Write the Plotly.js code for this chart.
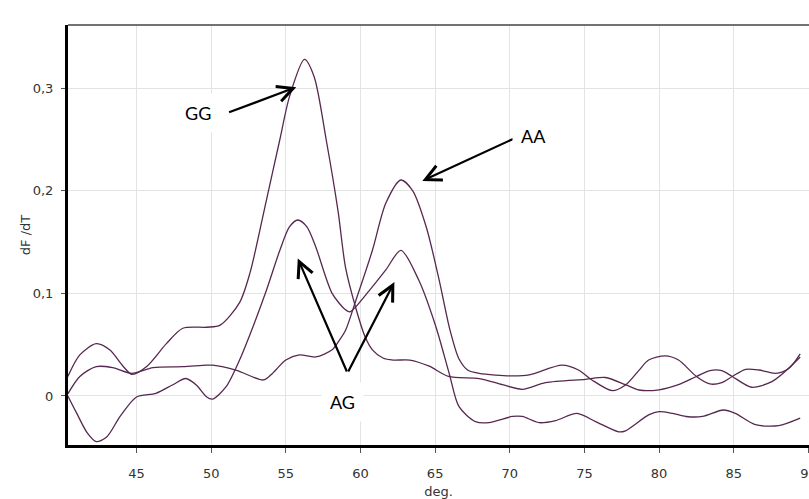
<!DOCTYPE html>
<html>
<head>
<meta charset="utf-8">
<script src="https://cdn.plot.ly/plotly-3.0.1.min.js"></script>
<style>
html,body{margin:0;padding:0;overflow:hidden;background:#fff;}
#chart{width:809px;height:499px;}
</style>
</head>
<body>
<div id="chart"></div>
<script>
// Curve GG
var ggX = [40.4, 41.2, 42.3, 43.2, 44.1, 44.7, 45.7, 47.0, 48.1, 49.7, 50.6, 51.9, 52.6, 53.7, 54.6, 55.25, 56.25, 56.9, 57.7, 58.5, 59.0, 59.7, 60.3, 60.8, 61.5, 62.2, 63.3, 64.6, 65.9, 67.95, 69.5, 70.84, 72.4, 75.08, 76.4, 77.75, 78.65, 80.0, 81.3, 82.5, 83.4, 84.2, 84.9, 86.2, 87.55, 88.45, 89.45];
var ggY = [0.019, 0.040, 0.051, 0.045, 0.029, 0.021, 0.029, 0.051, 0.066, 0.067, 0.069, 0.091, 0.12, 0.191, 0.25, 0.292, 0.328, 0.311, 0.25, 0.18, 0.125, 0.085, 0.058, 0.045, 0.037, 0.035, 0.035, 0.029, 0.019, 0.017, 0.011, 0.0065, 0.013, 0.0162, 0.018, 0.011, 0.0058, 0.006, 0.011, 0.019, 0.0247, 0.0247, 0.019, 0.0085, 0.014, 0.024, 0.038];
// Curve AG
var agX = [40.4, 41.0, 41.7, 42.3, 43.0, 43.9, 45.0, 46.3, 47.4, 48.3, 49.0, 49.7, 50.1, 51.0, 51.9, 52.8, 53.7, 54.6, 55.25, 55.8, 56.4, 57.0, 58.1, 59.0, 59.3, 60.6, 61.7, 62.71, 63.9, 65.05, 65.94, 66.6, 67.7, 68.6, 70.17, 70.84, 71.96, 73.07, 74.5, 75.75, 77.3, 77.75, 79.3, 80.0, 80.9, 81.8, 82.9, 84.3, 85.1, 86.45, 88.0, 89.45];
var agY = [0.0, -0.017, -0.036, -0.0445, -0.040, -0.020, -0.001, 0.0026, 0.0107, 0.017, 0.0107, -0.001, -0.003, 0.009, 0.035, 0.0675, 0.103, 0.142, 0.165, 0.1715, 0.165, 0.1455, 0.1, 0.084, 0.082, 0.103, 0.123, 0.142, 0.113, 0.0675, 0.022, -0.0104, -0.025, -0.026, -0.020, -0.020, -0.026, -0.024, -0.017, -0.025, -0.035, -0.034, -0.0185, -0.0153, -0.017, -0.020, -0.020, -0.0137, -0.017, -0.028, -0.029, -0.0217];
// Curve AA
var aaX = [40.4, 41.2, 42.3, 43.4, 44.67, 46.1, 48.1, 49.7, 50.1, 51.7, 53.5, 54.1, 55.0, 55.9, 57.0, 58.1, 58.6, 59.0, 59.7, 60.8, 61.7, 62.71, 63.5, 64.4, 65.27, 66.0, 66.6, 67.2, 67.95, 70.17, 71.3, 73.5, 74.6, 75.5, 76.86, 77.75, 78.65, 79.3, 80.4, 81.3, 82.5, 83.4, 84.2, 84.9, 85.8, 86.7, 87.8, 88.7, 89.45];
var aaY = [0.002, 0.019, 0.0286, 0.0276, 0.022, 0.0276, 0.0286, 0.030, 0.030, 0.025, 0.0156, 0.022, 0.035, 0.040, 0.038, 0.045, 0.0546, 0.064, 0.0936, 0.142, 0.188, 0.2105, 0.20, 0.165, 0.113, 0.064, 0.036, 0.025, 0.022, 0.0195, 0.0205, 0.030, 0.0253, 0.0156, 0.0052, 0.0107, 0.025, 0.035, 0.039, 0.035, 0.019, 0.0117, 0.013, 0.019, 0.026, 0.0253, 0.022, 0.027, 0.041];

var xTicks = [45, 50, 55, 60, 65, 70, 75, 80, 85, 90];
var yTicks = [0, 0.1, 0.2, 0.3];

var lineColor = '#57284f';
function curve(x, y, name) {
  return {x: x, y: y, name: name, type: 'scatter', mode: 'lines',
    line: {color: lineColor, width: 1.3, shape: 'spline', smoothing: 0.8},
    hoverinfo: 'skip'};
}

var data = [curve(ggX, ggY, 'GG'), curve(agX, agY, 'AG'), curve(aaX, aaY, 'AA')];

var annFont = {family: 'Lato, "Open Sans", sans-serif', size: 18, color: '#000'};
function label(txt, x, y) {
  return {text: txt, x: x, y: y, xref: 'x', yref: 'y', showarrow: false,
    font: annFont, bgcolor: '#ffffff', borderpad: 8};
}
function arrow(x, y, ax, ay) {
  return {text: '', x: x, y: y, ax: ax, ay: ay, xref: 'x', yref: 'y', axref: 'x', ayref: 'y',
    showarrow: true, arrowhead: 5, arrowsize: 1.4, arrowwidth: 2.2, arrowcolor: '#000', standoff: 0, startstandoff: 0};
}

var tickFont = {family: '"DejaVu Sans", sans-serif', size: 13, color: '#333'};

var layout = {
  width: 809, height: 499,
  margin: {l: 68, r: 0, t: 25, b: 54},
  paper_bgcolor: '#fff', plot_bgcolor: '#fff',
  separators: ', ',
  showlegend: false,
  font: {family: '"DejaVu Sans", sans-serif', size: 13, color: '#333'},
  xaxis: {
    range: [40.41, 90.04], tickvals: xTicks, automargin: false,
    showgrid: true, gridcolor: '#e3e3e3', gridwidth: 1, zeroline: false,
    showline: true, linecolor: '#000', linewidth: 3,
    ticks: 'outside', ticklen: 5, tickcolor: '#555', tickwidth: 1,
    ticklabelstandoff: 9, ticklabeloverflow: 'allow',
    tickfont: tickFont,
    title: {text: 'deg.', font: tickFont}
  },
  yaxis: {
    range: [-0.0478, 0.3616], tickvals: yTicks, automargin: false,
    showgrid: true, gridcolor: '#e3e3e3', gridwidth: 1, zeroline: false,
    showline: true, linecolor: '#000', linewidth: 3,
    ticks: 'outside', ticklen: 4, tickcolor: '#555', tickwidth: 1,
    ticklabelstandoff: 5,
    tickfont: tickFont,
    title: {text: 'dF /dT', font: tickFont}
  },
  shapes: [
    {type: 'line', xref: 'paper', yref: 'paper', x0: 0, x1: 1, y0: 1, y1: 1,
     line: {color: '#444', width: 1.5}}
  ],
  annotations: [
    arrow(55.7, 0.301, 51.1, 0.276),
    label('GG', 49.1, 0.276),
    arrow(64.14, 0.2096, 70.36, 0.2515),
    label('AA', 71.6, 0.253),
    arrow(55.8, 0.134, 59.13, 0.0224),
    arrow(62.27, 0.111, 59.13, 0.0224),
    label('AG', 58.8, -0.006)
  ]
};

Plotly.newPlot('chart', data, layout, {staticPlot: true, displayModeBar: false});
</script>
</body>
</html>
